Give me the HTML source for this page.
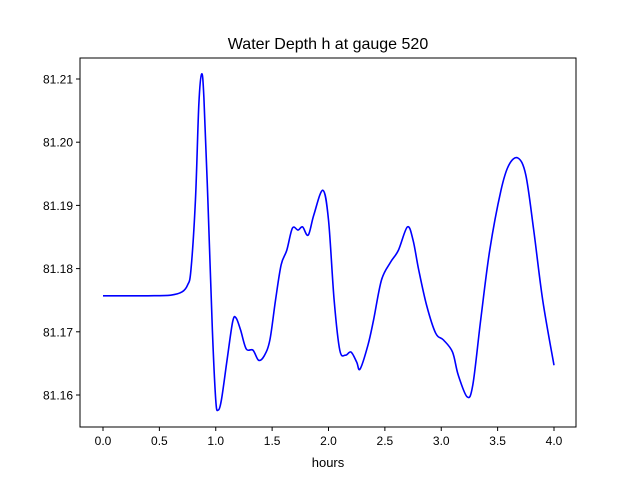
<!DOCTYPE html>
<html><head><meta charset="utf-8"><style>
body{margin:0;background:#fff;}
svg{display:block;font-family:"Liberation Sans","DejaVu Sans",sans-serif;}
</style></head><body>
<svg id="chart" width="640" height="480">
<rect x="0" y="0" width="640" height="480" fill="#fff"/>
<text x="328" y="49" text-anchor="middle" font-size="16">Water Depth h at gauge 520</text>
<g id="plot"></g>
<rect x="80" y="58" width="496" height="369" fill="none" stroke="#000" stroke-width="1"/>
<text x="328" y="467" text-anchor="middle" font-size="13">hours</text>
</svg>
<script>
const hours=[0,0.4,0.6,0.7,0.75,0.78,0.82,0.85,0.875,0.895,0.93,0.97,1.0,1.02,1.05,1.1,1.15,1.18,1.22,1.27,1.33,1.38,1.43,1.48,1.53,1.58,1.63,1.68,1.73,1.77,1.82,1.87,1.95,2.0,2.05,2.1,2.15,2.2,2.25,2.28,2.35,2.4,2.47,2.55,2.62,2.7,2.75,2.8,2.87,2.95,3.02,3.1,3.15,3.23,3.28,3.35,3.43,3.53,3.6,3.68,3.75,3.82,3.9,4.0];
const depth=[81.1757,81.1757,81.1758,81.1763,81.1774,81.1798,81.1909,81.2060,81.2108,81.2070,81.1909,81.1703,81.1592,81.1576,81.1592,81.1655,81.1716,81.1722,81.1703,81.1673,81.1671,81.1655,81.1662,81.1687,81.1750,81.1806,81.1829,81.1864,81.1861,81.1866,81.1853,81.1885,81.1924,81.1877,81.1750,81.1671,81.1663,81.1668,81.1652,81.1641,81.1679,81.1719,81.1782,81.1810,81.1829,81.1866,81.1845,81.1798,81.1742,81.1698,81.1687,81.1668,81.1632,81.1597,81.1616,81.1719,81.1829,81.1924,81.1964,81.1975,81.1948,81.1861,81.1750,81.1647];
const xTicks=[0,0.5,1,1.5,2,2.5,3,3.5,4];
const xTickLabels=["0.0","0.5","1.0","1.5","2.0","2.5","3.0","3.5","4.0"];
const yTicks=[81.16,81.17,81.18,81.19,81.20,81.21];
const yTickLabels=["81.16","81.17","81.18","81.19","81.20","81.21"];
const X=h=>103+h*(554-103)/4;
const Y=v=>395-(v-81.16)*6320;
const g=document.getElementById('plot');
const NS='http://www.w3.org/2000/svg';
function mk(t,a){const e=document.createElementNS(NS,t);for(const k in a)e.setAttribute(k,a[k]);g.appendChild(e);return e;}
xTicks.forEach((t,i)=>{
 const l=mk('line',{x1:X(t),x2:X(t),y1:427,y2:431,stroke:'#000'});
 
 
 const tx=mk('text',{x:X(t),y:445,'text-anchor':'middle','font-size':'12'});
 tx.textContent=xTickLabels[i];
 
 
});
yTicks.forEach((t,i)=>{
 const l=mk('line',{x1:76,x2:80,y1:Y(t),y2:Y(t),stroke:'#000'});
 
 
 const tx=mk('text',{x:73,y:Y(t)+4.5,'text-anchor':'end','font-size':'12'});
 tx.textContent=yTickLabels[i];
 
 
});
const P=hours.map((h,i)=>[X(h),Y(depth[i])]);
let d='M'+P[0][0]+','+P[0][1];
for(let i=0;i<P.length-1;i++){
 const p0=P[Math.max(0,i-1)],p1=P[i],p2=P[i+1],p3=P[Math.min(P.length-1,i+2)];
 const c1=[p1[0]+(p2[0]-p0[0])/6,p1[1]+(p2[1]-p0[1])/6];
 const c2=[p2[0]-(p3[0]-p1[0])/6,p2[1]-(p3[1]-p1[1])/6];
 d+=' C'+c1+' '+c2+' '+p2;
}
const line=mk('path',{d:d,fill:'none',stroke:'#0000ff','stroke-width':'1.6'});


</script>
</body></html>
